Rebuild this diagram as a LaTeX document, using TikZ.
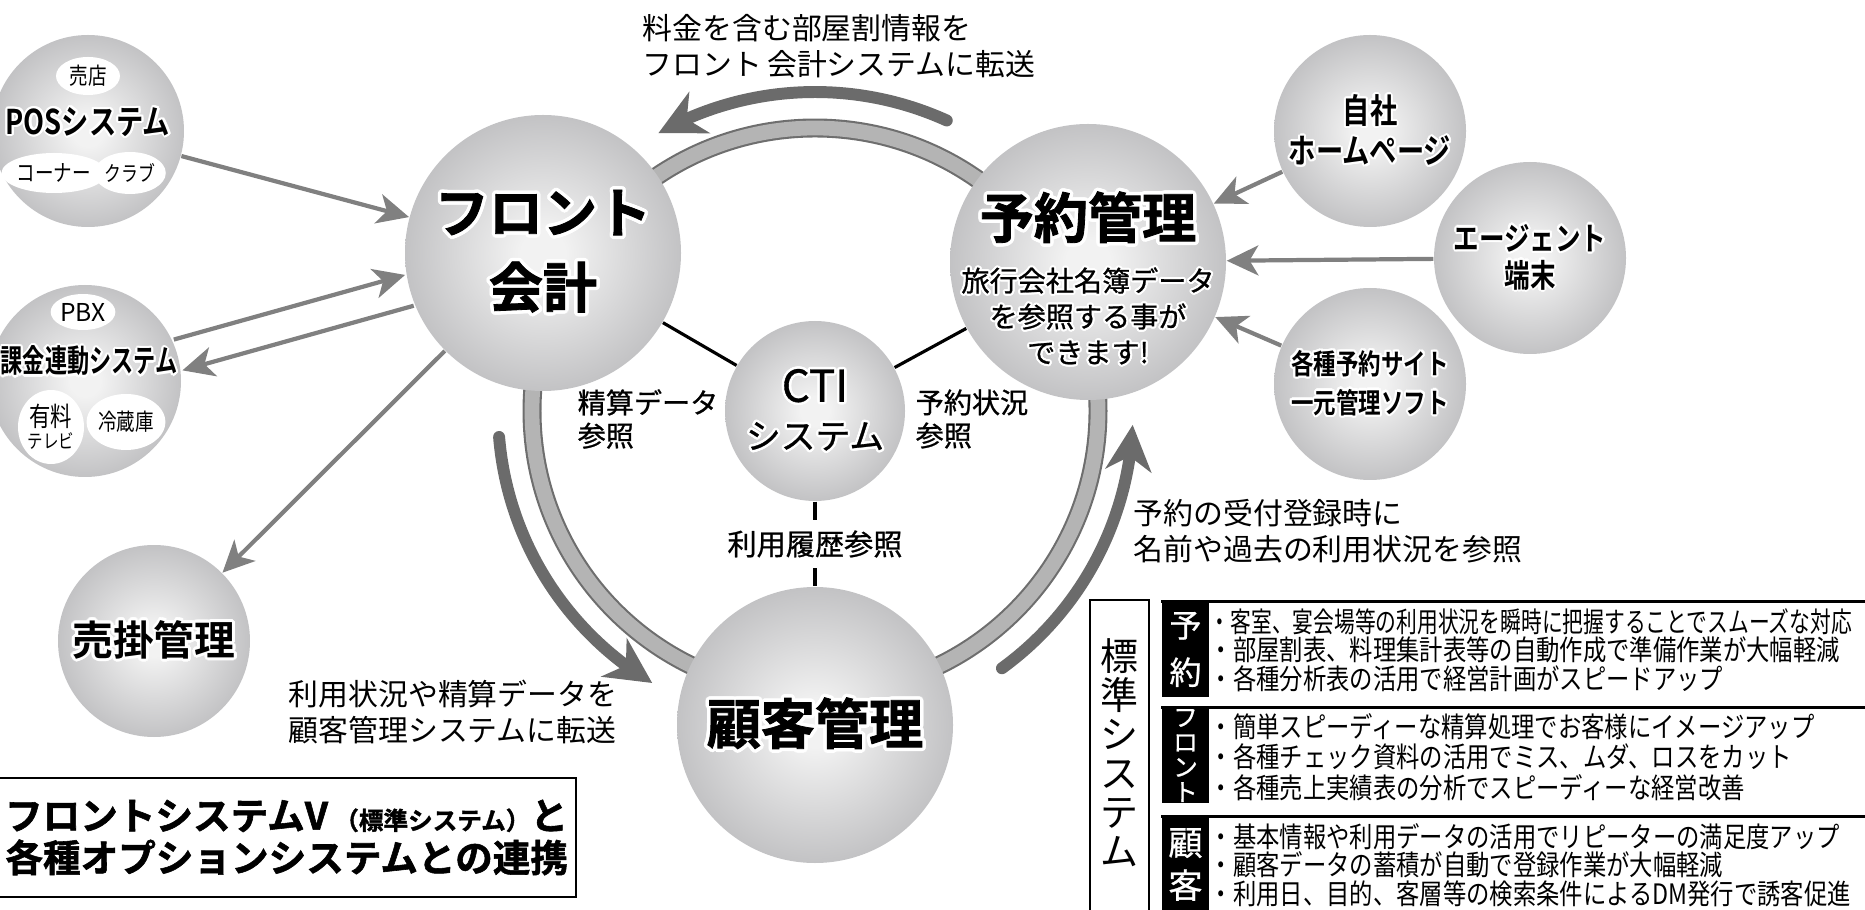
\documentclass[tikz,border=0pt]{standalone}
\usepackage{fontspec}
\usepackage{graphicx}
\usepackage{contour}
\usetikzlibrary{arrows.meta,bending,shapes.geometric,backgrounds,calc}

\newfontfamily\jp{Noto Sans CJK JP}
\newfontfamily\jpmed{Noto Sans CJK JP}[FakeBold=0.8]
\newfontfamily\jpbold{Noto Sans CJK JP Bold}
\newfontfamily\jpheavy{Noto Sans CJK JP Bold}[FakeBold=1.5]
\newfontfamily\jpcond{Noto Sans CJK JP Bold}[FakeStretch=0.8]
\newfontfamily\jpnarrow{Noto Sans CJK JP Bold}[FakeStretch=0.7]
\newfontfamily\jpthin{Noto Sans CJK JP}[FakeStretch=0.8]
\newfontfamily\jptable{Noto Sans CJK JP}[FakeStretch=0.83]

\definecolor{orbcore}{HTML}{F2F2F2}
\definecolor{orbedge}{HTML}{8A8A8E}
\definecolor{ringfill}{HTML}{B4B4B4}
\definecolor{ringedge}{HTML}{6E6E6E}
\definecolor{flowgray}{HTML}{6B6B6B}
\definecolor{linkgray}{HTML}{808080}

\pgfdeclareradialshading{orb}{\pgfpoint{0bp}{0bp}}{%
  color(0bp)=(orbcore); color(4bp)=(orbcore); color(50bp)=(orbedge); color(70bp)=(orbedge)}

\contourlength{0.8pt}
\newcommand\outl[2][0.8pt]{{\contourlength{#1}\contour{white}{#2}}}
\newcommand\pxfs[2]{\fontsize{#1pt}{#2pt}\selectfont}

\tikzset{
  orb/.style={circle, shading=orb, inner sep=0pt, align=center},
  bigorb/.style={orb, minimum size=2.76cm, font=\jpheavy\pxfs{15.4}{21.3}},
  smallorb/.style={orb, minimum size=1.92cm},
  tag/.style={ellipse, fill=white, inner sep=0pt, align=center, font=\jpthin\pxfs{6.6}{6.2}},
  link/.style={draw=linkgray, line width=1.2pt, -{Stealth[length=9pt,width=8.5pt,inset=2.5pt]}},
  flow/.style={draw=flowgray, line width=3.4pt, line cap=round, -{Stealth[length=13pt,width=13pt,inset=4pt]}},
  ring/.style={draw=ringedge, line width=0.6pt, double=ringfill, double distance=4.2pt},
  tie/.style={draw=black, line width=0.9pt},
  note/.style={inner sep=0pt, anchor=west, align=left, font=\jp\pxfs{8.5}{10.2}},
  catbox/.style={fill=black, text=white, minimum width=0.47cm, minimum height=0.95cm, inner sep=0pt, align=center},
  rowtext/.style={inner sep=0pt, anchor=west, align=left, font=\jptable\pxfs{8}{8.1}},
}

\begin{document}
\begin{tikzpicture}
\useasboundingbox (0,0) rectangle (18.65,9.09);
\clip (0,0) rectangle (18.65,9.09);
% centre
\node[orb, minimum size=1.8cm, font=\jpmed\pxfs{9.9}{13.4}] (cti) at (8.15,4.98) {{\pxfs{12.5}{13.4}\outl[0.7pt]{CTI}}\\\outl[0.7pt]{システム}};
\node[bigorb] (front) at (5.43,6.56) {\outl[1pt]{フロント}\\\outl[1pt]{会計}};
\node[bigorb] (yoyaku) at (10.88,6.47) {};
\node[bigorb] (kokyaku) at (8.15,1.84) {\outl[1pt]{顧客管理}};
\node[inner sep=0pt, font=\jpheavy\pxfs{15.4}{21.3}] (yoyakuname) at ($(yoyaku)+(0,0.43)$) {\outl[1pt]{予約管理}};
\node[inner sep=0pt, align=center, font=\jpmed\pxfs{8}{10.2}] (yoyakunote) at ($(yoyaku)+(0,-0.55)$) {\outl[0.6pt]{旅行会社名簿データ}\\\outl[0.6pt]{を参照する事が}\\\outl[0.6pt]{できます!}};

% left side
\node[smallorb] (pos) at (0.88,7.78) {};
\node[tag, minimum width=0.64cm, minimum height=0.38cm] (baiten) at (0.88,8.33) {売店};
\node[inner sep=0pt, font=\jpcond\pxfs{9.7}{10}] (posname) at (0.88,7.86) {\outl[0.6pt]{POSシステム}};
\node[tag, minimum width=0.84cm, minimum height=0.40cm] (corner) at (0.54,7.36) {コーナー};
\node[tag, minimum width=0.56cm, minimum height=0.42cm, font=\jpthin\pxfs{6}{6}] (club) at (1.30,7.36) {クラブ};
\node[smallorb] (kakin) at (0.85,5.28) {};
\node[tag, minimum width=0.62cm, minimum height=0.36cm, font=\jp\pxfs{7}{7}] (pbx) at (0.83,5.97) {PBX};
\node[inner sep=0pt, font=\jpnarrow\pxfs{9}{10}] (kakinname) at (0.89,5.47) {\outl[0.6pt]{課金連動システム}};
\node[tag, minimum width=0.66cm, minimum height=0.74cm, font=\jpthin\pxfs{7.6}{6.4}] (paytv) at (0.51,4.82) {有料\\{\pxfs{5.5}{5.5}テレビ}};
\node[tag, minimum width=0.74cm, minimum height=0.56cm] (fridge) at (1.26,4.87) {冷蔵庫};
\node[smallorb, font=\jpbold\pxfs{11.6}{12}] (urikake) at (1.54,2.68) {\outl{売掛管理}};

% right side
\node[smallorb, font=\jpcond\pxfs{9.7}{11.4}] (jisha) at (13.70,7.78) {\outl[0.6pt]{自社}\\\outl[0.6pt]{ホームページ}};
\node[smallorb, font=\jpcond\pxfs{9.1}{10.5}] (agent) at (15.30,6.51) {\outl[0.6pt]{エージェント}\\\outl[0.6pt]{端末}};
\node[smallorb, font=\jpcond\pxfs{8}{11}] (site) at (13.70,5.25) {\outl[0.6pt]{各種予約サイト}\\\outl[0.6pt]{一元管理ソフト}};

\begin{scope}[on background layer]
\draw[ring] (cti) circle[radius=2.83];
\end{scope}
\draw[flow] ($(cti)+(65.6:3.19)$) arc[start angle=65.6, end angle=119.4, radius=3.19];
\draw[flow] ($(cti)+(184.7:3.17)$) arc[start angle=184.7, end angle=239.1, radius=3.17];
\draw[flow] ($(cti)+(-54:3.18)$) arc[start angle=-54, end angle=-2.5, radius=3.18];

\draw[link] (pos) -- (front);
\draw[link, transform canvas={shift={(-0.043,0.154)}}] (kakin) -- (front);
\draw[link, transform canvas={shift={(0.043,-0.154)}}] (front) -- (kakin);
\draw[link] (front) -- (urikake);
\draw[link] (jisha) -- (yoyaku);
\draw[link] (agent) -- (yoyaku);
\draw[link] (site) -- (yoyaku);
\draw[tie] (front) -- (cti);
\draw[tie] (cti) -- (yoyaku);
\draw[tie] (cti) -- node[fill=white, inner xsep=1pt, inner ysep=3pt, font=\jpmed\pxfs{8.3}{9}] (rireki) {利用履歴参照} (kokyaku);

% captions
\node[note] (heyawari) at (6.42,8.63) {料金を含む部屋割情報を\\フロント\,会計システムに転送};
\node[note] (tenso) at (2.88,1.97) {利用状況や精算データを\\顧客管理システムに転送};
\node[note] (uketsuke) at (11.33,3.78) {予約の受付登録時に\\名前や過去の利用状況を参照};
\node[note, font=\jpmed\pxfs{8}{9.4}] (seisan) at (5.77,4.90) {精算データ\\参照};
\node[note, font=\jpmed\pxfs{8}{9.4}] (jokyo) at (9.15,4.90) {予約状況\\参照};

\node[draw, line width=0.8pt, minimum width=5.81cm, minimum height=1.19cm, text width=5.65cm, inner xsep=0.08cm, align=right, font=\jpheavy\pxfs{10.7}{12}] (title) at (2.855,0.715) {フロントシステムV\,{\pxfs{7}{7}（標準システム）}と\\各種オプションシステムとの連携};

% table
\draw[line width=0.8pt] (10.90,-0.2) -- (10.90,3.09) -- (11.49,3.09) -- (11.49,-0.2);
\node[inner sep=0pt, align=center, font=\jp\pxfs{10.8}{11.1}] (hyojun) at (11.195,1.565) {標\\準\\シ\\ス\\テ\\ム};
\node[catbox, font=\jpmed\pxfs{9.1}{13.4}] (catyoyaku) at (11.855,2.595) {予\\約};
\node[catbox, font=\jpmed\pxfs{7}{7.1}] (catfront) at (11.855,1.535) {フ\\ロ\\ン\\ト};
\node[catbox, font=\jpmed\pxfs{9.7}{12.2}] (catkokyaku) at (11.855,0.445) {顧\\客};
\draw[line width=0.85pt] (catyoyaku.north west) -- ++(7.2,0);
\draw[line width=0.85pt] (catfront.north west) -- ++(7.2,0);
\draw[line width=0.85pt] (catkokyaku.north west) -- ++(7.2,0);
\node[rowtext] (rowyoyaku) at (12.09,2.59) {\scalebox{0.89}[1]{・客室、宴会場等の利用状況を瞬時に把握することでスムーズな対応}\\・部屋割表、料理集計表等の自動作成で準備作業が大幅軽減\\・各種分析表の活用で経営計画がスピードアップ};
\node[rowtext, font=\jptable\pxfs{8}{8.6}] (rowfront) at (12.09,1.52) {・簡単スピーディーな精算処理でお客様にイメージアップ\\・各種チェック資料の活用でミス、ムダ、ロスをカット\\・各種売上実績表の分析でスピーディーな経営改善};
\node[rowtext] (rowkokyaku) at (12.09,0.44) {・基本情報や利用データの活用でリピーターの満足度アップ\\・顧客データの蓄積が自動で登録作業が大幅軽減\\・利用日、目的、客層等の検索条件によるDM発行で誘客促進};
\end{tikzpicture}
\end{document}
